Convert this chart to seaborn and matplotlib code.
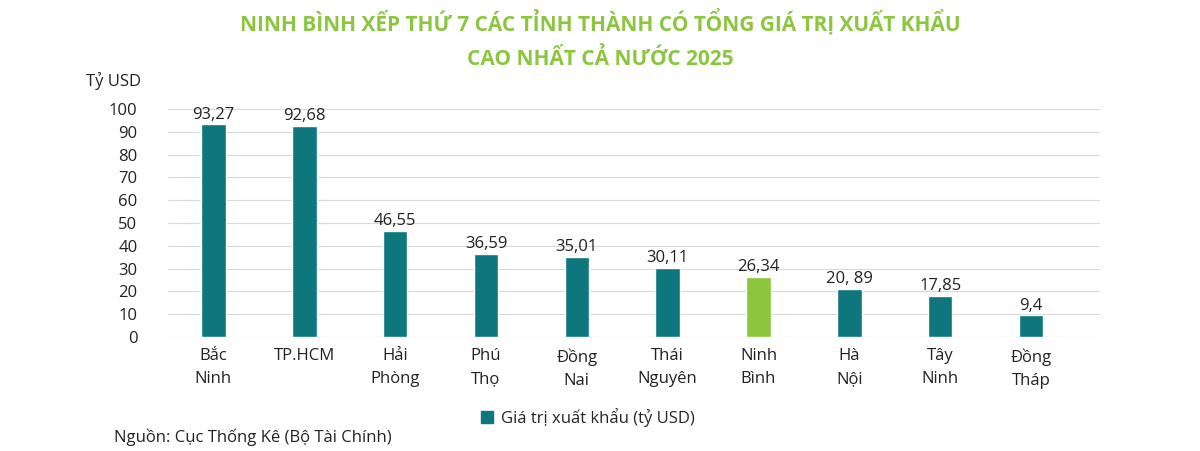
import matplotlib
matplotlib.use("Agg")
import matplotlib.pyplot as plt
import seaborn as sns
import pandas as pd
from matplotlib.patches import Patch

categories = ["Bắc\nNinh", "TP.HCM", "Hải\nPhòng", "Phú\nThọ", "Đồng\nNai",
              "Thái\nNguyên", "Ninh\nBình", "Hà\nNội", "Tây\nNinh", "Đồng\nTháp"]
values = [93.27, 92.68, 46.55, 36.59, 35.01, 30.11, 26.34, 20.89, 17.85, 9.4]
value_labels = ["93,27", "92,68", "46,55", "36,59", "35,01", "30,11", "26,34", "20, 89", "17,85", "9,4"]
highlight = "Ninh\nBình"

sns.set_theme(style="white")
plt.rcParams['font.family'] = ['Open Sans', 'DejaVu Sans']

teal = "#0d777d"
green = "#8cc63f"
df = pd.DataFrame({"cat": categories, "val": values})
palette = {c: (green if c == highlight else teal) for c in categories}

fig = plt.figure(figsize=(12, 4.51), dpi=100)
ax = fig.add_axes([0.14, 0.253, 0.7767, 0.505])
sns.barplot(data=df, x="cat", y="val", hue="cat", palette=palette, width=0.27,
            legend=False, ax=ax, saturation=1)
ax.set_xlim(-0.5, 9.76)
ax.set_ylim(0, 100)
ax.set_yticks(range(0, 101, 10))
ax.yaxis.grid(True, color="#d9d9d9", linewidth=0.8)
ax.set_axisbelow(True)
for s in ax.spines.values():
    s.set_visible(False)
ax.set_xlabel("")
ax.set_ylabel("")
ax.tick_params(axis="y", labelsize=12, colors="#222222", length=0, pad=22)
ax.tick_params(axis="x", labelsize=12, colors="#222222", length=0, pad=8)
for t in ax.get_xticklabels():
    t.set_linespacing(1.6)
for i, (v, lbl) in enumerate(zip(values, value_labels)):
    ax.text(i, v + 0.8, lbl, ha="center", va="bottom", fontsize=12, color="#222222")

fig.text(0.5, 0.948, "NINH BÌNH XẾP THỨ 7 CÁC TỈNH THÀNH CÓ TỔNG GIÁ TRỊ XUẤT KHẨU",
         ha="center", va="center", fontsize=15, fontweight="bold", color=green)
fig.text(0.5, 0.87, "CAO NHẤT CẢ NƯỚC 2025",
         ha="center", va="center", fontsize=15, fontweight="bold", color=green)
fig.text(0.072, 0.82, "Tỷ USD", fontsize=12, color="#222222", va="center")
fig.legend(handles=[Patch(color=teal, label="Giá trị xuất khẩu (tỷ USD)")],
           loc="center", bbox_to_anchor=(0.49, 0.075), frameon=False, fontsize=12,
           handlelength=0.7, handleheight=0.7, handletextpad=0.5)
fig.text(0.095, 0.012, "Nguồn: Cục Thống Kê (Bộ Tài Chính)", fontsize=12, color="#222222", va="bottom")
fig.savefig("out.png", dpi=100)
